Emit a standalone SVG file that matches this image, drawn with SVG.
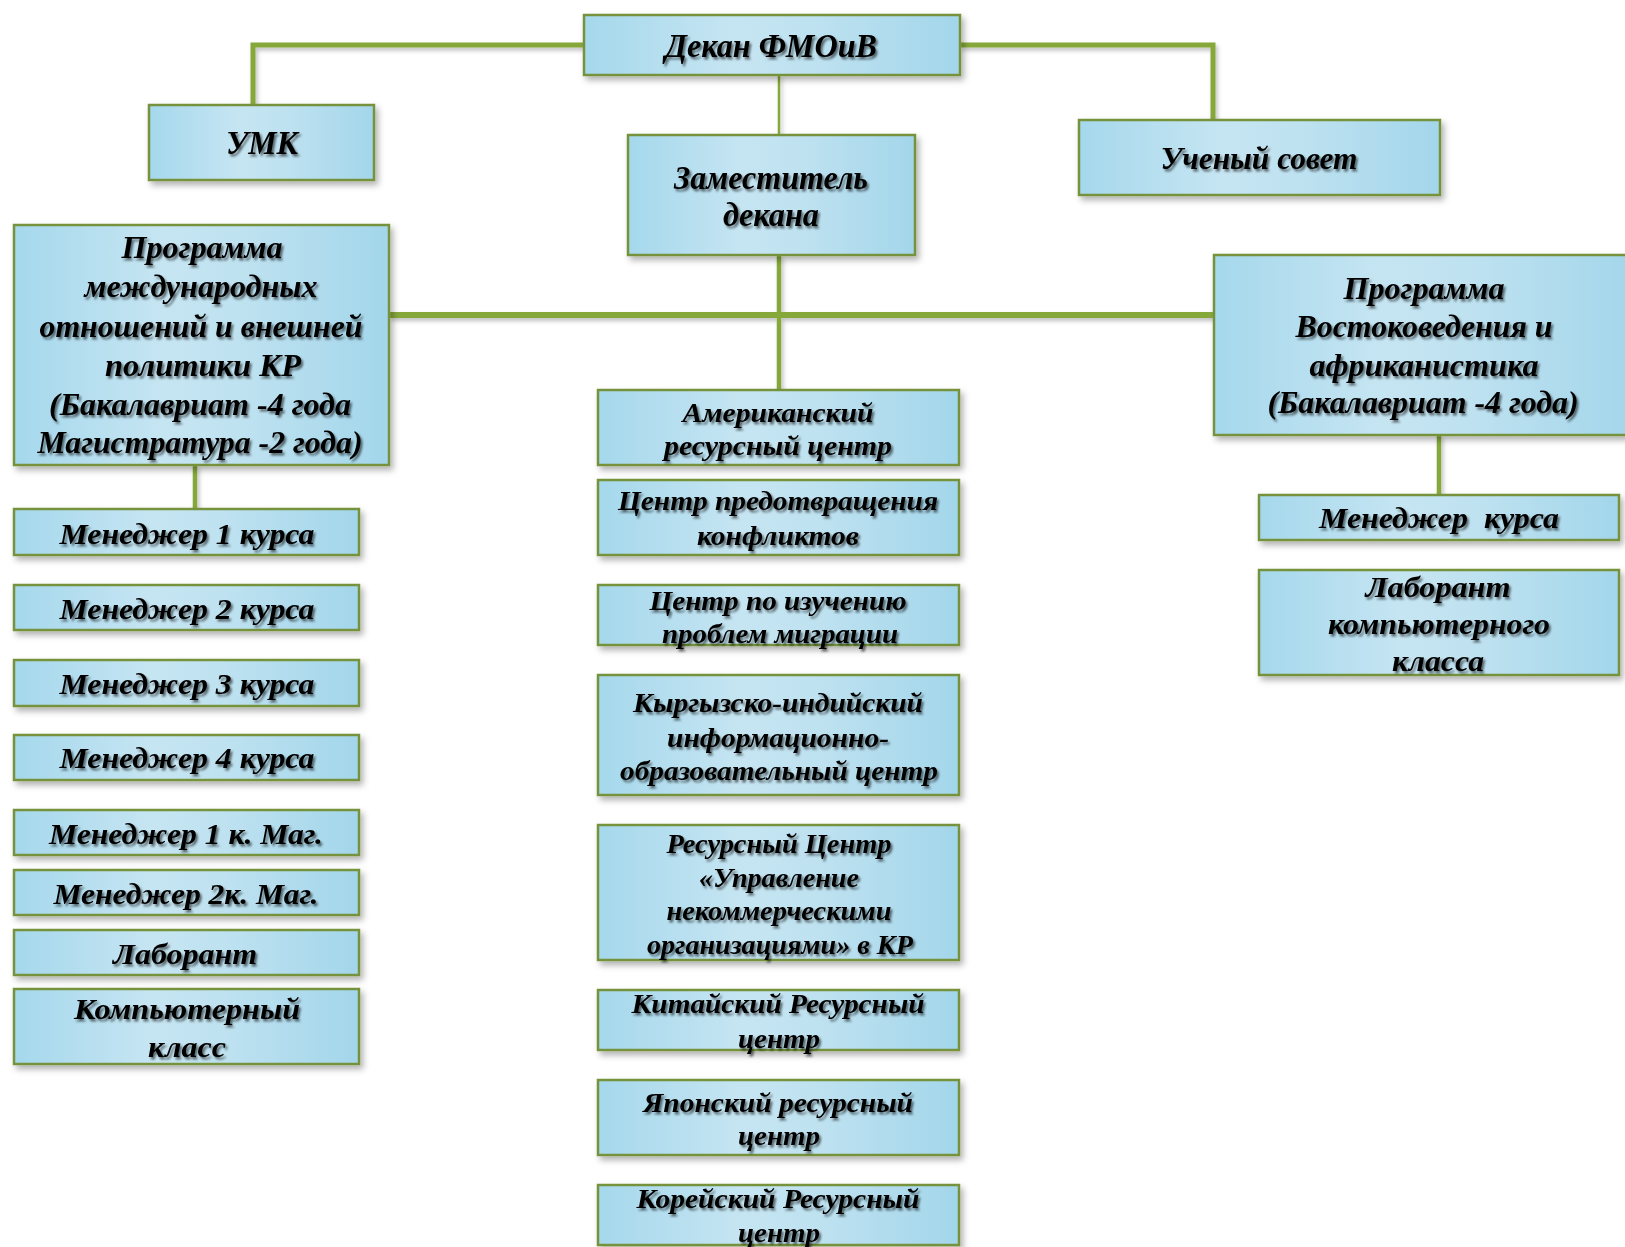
<svg xmlns="http://www.w3.org/2000/svg" width="1625" height="1247" viewBox="0 0 1625 1247">
<defs>
<linearGradient id="g" x1="0" y1="0" x2="1" y2="0">
<stop offset="0" stop-color="#a5d8ec"/>
<stop offset="0.4" stop-color="#c6e5f2"/>
<stop offset="0.6" stop-color="#bfe2f0"/>
<stop offset="1" stop-color="#a3d6eb"/>
</linearGradient>
<filter id="bs" x="-10%" y="-20%" width="130%" height="150%">
<feDropShadow dx="3" dy="4" stdDeviation="3" flood-color="#000" flood-opacity="0.3"/>
</filter>
<filter id="ts" x="-5%" y="-30%" width="115%" height="170%">
<feDropShadow dx="2" dy="2.5" stdDeviation="1.3" flood-color="#000" flood-opacity="0.55"/>
</filter>
<filter id="ls" filterUnits="userSpaceOnUse" x="0" y="0" width="1625" height="1247">
<feDropShadow dx="2" dy="3" stdDeviation="2" flood-color="#000" flood-opacity="0.25"/>
</filter>
</defs>
<style>
.box{fill:url(#g);stroke:#76923c;stroke-width:2.5;filter:url(#bs)}
.t{font-family:"Liberation Serif","Times New Roman",serif;font-weight:bold;font-style:italic;text-anchor:middle;fill:#000;filter:url(#ts)}
.c{stroke:#86a83b;fill:none;stroke-linejoin:miter}
</style>
<rect width="1625" height="1247" fill="#ffffff"/>

<g id="connectors" filter="url(#ls)">
<polyline class="c" stroke-width="5" points="584,45 253,45 253,105"/>
<polyline class="c" stroke-width="5" points="960,45 1213,45 1213,120"/>
<line class="c" stroke-width="2.5" x1="779" y1="75" x2="779" y2="135"/>
<line class="c" stroke-width="4.5" x1="779" y1="255" x2="779" y2="390"/>
<line class="c" stroke-width="6" x1="389" y1="315" x2="1214" y2="315"/>
<line class="c" stroke-width="4.5" x1="195" y1="465" x2="195" y2="509"/>
<line class="c" stroke-width="4.5" x1="1439" y1="435" x2="1439" y2="495"/>
</g>

<g id="n-dekan">
<rect class="box" x="584" y="15" width="376" height="60"/>
<text class="t" x="771" y="57" font-size="34" textLength="212" lengthAdjust="spacingAndGlyphs">Декан ФМОиВ</text>
</g>
<g id="n-umk">
<rect class="box" x="149" y="105" width="225" height="75"/>
<text class="t" x="262" y="154" font-size="34" textLength="72" lengthAdjust="spacingAndGlyphs">УМК</text>
</g>
<g id="n-zam">
<rect class="box" x="628" y="135" width="287" height="120"/>
<text class="t" x="771" y="189" font-size="33" textLength="194" lengthAdjust="spacingAndGlyphs">Заместитель</text>
<text class="t" x="771" y="226" font-size="33" textLength="96" lengthAdjust="spacingAndGlyphs">декана</text>
</g>
<g id="n-sovet">
<rect class="box" x="1079" y="120" width="361" height="75"/>
<text class="t" x="1259" y="169" font-size="31" textLength="197" lengthAdjust="spacingAndGlyphs">Ученый совет</text>
</g>

<g id="n-prog-mo">
<rect class="box" x="14" y="225" width="375" height="240"/>
<text class="t" x="202" y="258" font-size="31" textLength="161" lengthAdjust="spacingAndGlyphs">Программа</text>
<text class="t" x="201" y="297" font-size="31" textLength="233" lengthAdjust="spacingAndGlyphs">международных</text>
<text class="t" x="201" y="337" font-size="31" textLength="323" lengthAdjust="spacingAndGlyphs">отношений и внешней</text>
<text class="t" x="203" y="376" font-size="31" textLength="196" lengthAdjust="spacingAndGlyphs">политики КР</text>
<text class="t" x="200" y="415" font-size="31" textLength="302" lengthAdjust="spacingAndGlyphs">(Бакалавриат -4 года</text>
<text class="t" x="200" y="453" font-size="31" textLength="325" lengthAdjust="spacingAndGlyphs">Магистратура -2 года)</text>
</g>

<g id="n-prog-vost">
<rect class="box" x="1214" y="255" width="420" height="180"/>
<text class="t" x="1424" y="299" font-size="31" textLength="161" lengthAdjust="spacingAndGlyphs">Программа</text>
<text class="t" x="1424" y="337" font-size="31" textLength="257" lengthAdjust="spacingAndGlyphs">Востоковедения и</text>
<text class="t" x="1424" y="376" font-size="31" textLength="229" lengthAdjust="spacingAndGlyphs">африканистика</text>
<text class="t" x="1423" y="413" font-size="31" textLength="311" lengthAdjust="spacingAndGlyphs">(Бакалавриат -4 года)</text>
</g>
<g id="n-men-kursa">
<rect class="box" x="1259" y="495" width="360" height="45"/>
<text class="t" x="1439" y="528" font-size="30" textLength="240" lengthAdjust="spacingAndGlyphs" style="white-space:pre">Менеджер  курса</text>
</g>
<g id="n-lab-komp">
<rect class="box" x="1259" y="570" width="360" height="105"/>
<text class="t" x="1438" y="597" font-size="30" textLength="145" lengthAdjust="spacingAndGlyphs">Лаборант</text>
<text class="t" x="1439" y="634" font-size="30" textLength="222" lengthAdjust="spacingAndGlyphs">компьютерного</text>
<text class="t" x="1438" y="671" font-size="30" textLength="92" lengthAdjust="spacingAndGlyphs">класса</text>
</g>

<g id="n-m1">
<rect class="box" x="14" y="509" width="345" height="46"/>
<text class="t" x="187" y="544" font-size="30" textLength="255" lengthAdjust="spacingAndGlyphs">Менеджер 1 курса</text>
</g>
<g id="n-m2">
<rect class="box" x="14" y="585" width="345" height="45"/>
<text class="t" x="187" y="619" font-size="30" textLength="255" lengthAdjust="spacingAndGlyphs">Менеджер 2 курса</text>
</g>
<g id="n-m3">
<rect class="box" x="14" y="660" width="345" height="46"/>
<text class="t" x="187" y="694" font-size="30" textLength="255" lengthAdjust="spacingAndGlyphs">Менеджер 3 курса</text>
</g>
<g id="n-m4">
<rect class="box" x="14" y="735" width="345" height="45"/>
<text class="t" x="187" y="768" font-size="30" textLength="255" lengthAdjust="spacingAndGlyphs">Менеджер 4 курса</text>
</g>
<g id="n-m1mag">
<rect class="box" x="14" y="810" width="345" height="45"/>
<text class="t" x="186" y="844" font-size="30" textLength="274" lengthAdjust="spacingAndGlyphs">Менеджер 1 к. Маг.</text>
</g>
<g id="n-m2mag">
<rect class="box" x="14" y="870" width="345" height="45"/>
<text class="t" x="186" y="904" font-size="30" textLength="265" lengthAdjust="spacingAndGlyphs">Менеджер 2к. Маг.</text>
</g>
<g id="n-lab">
<rect class="box" x="14" y="930" width="345" height="45"/>
<text class="t" x="185" y="964" font-size="30" textLength="144" lengthAdjust="spacingAndGlyphs">Лаборант</text>
</g>
<g id="n-komp">
<rect class="box" x="14" y="989" width="345" height="75"/>
<text class="t" x="187" y="1019" font-size="30" textLength="226" lengthAdjust="spacingAndGlyphs">Компьютерный</text>
<text class="t" x="187" y="1057" font-size="30" textLength="78" lengthAdjust="spacingAndGlyphs">класс</text>
</g>

<g id="n-amer">
<rect class="box" x="598" y="390" width="361" height="75"/>
<text class="t" x="778" y="422" font-size="28" textLength="191" lengthAdjust="spacingAndGlyphs">Американский</text>
<text class="t" x="778" y="455" font-size="28" textLength="228" lengthAdjust="spacingAndGlyphs">ресурсный центр</text>
</g>
<g id="n-predotvr">
<rect class="box" x="598" y="480" width="361" height="75"/>
<text class="t" x="778" y="510" font-size="28" textLength="320" lengthAdjust="spacingAndGlyphs">Центр предотвращения</text>
<text class="t" x="778" y="545" font-size="28" textLength="162" lengthAdjust="spacingAndGlyphs">конфликтов</text>
</g>
<g id="n-migr">
<rect class="box" x="598" y="585" width="361" height="60"/>
<text class="t" x="778" y="610" font-size="28" textLength="257" lengthAdjust="spacingAndGlyphs">Центр по изучению</text>
<text class="t" x="780" y="643" font-size="28" textLength="236" lengthAdjust="spacingAndGlyphs">проблем миграции</text>
</g>
<g id="n-kyrg">
<rect class="box" x="598" y="675" width="361" height="120"/>
<text class="t" x="778" y="712" font-size="28" textLength="290" lengthAdjust="spacingAndGlyphs">Кыргызско-индийский</text>
<text class="t" x="778" y="747" font-size="28" textLength="222" lengthAdjust="spacingAndGlyphs">информационно-</text>
<text class="t" x="779" y="780" font-size="28" textLength="318" lengthAdjust="spacingAndGlyphs">образовательный центр</text>
</g>
<g id="n-nko">
<rect class="box" x="598" y="825" width="361" height="135"/>
<text class="t" x="779" y="853" font-size="28" textLength="225" lengthAdjust="spacingAndGlyphs">Ресурсный Центр</text>
<text class="t" x="779" y="887" font-size="28" textLength="160" lengthAdjust="spacingAndGlyphs">«Управление</text>
<text class="t" x="779" y="920" font-size="28" textLength="225" lengthAdjust="spacingAndGlyphs">некоммерческими</text>
<text class="t" x="780" y="954" font-size="28" textLength="266" lengthAdjust="spacingAndGlyphs">организациями» в КР</text>
</g>
<g id="n-china">
<rect class="box" x="598" y="990" width="361" height="60"/>
<text class="t" x="778" y="1013" font-size="28" textLength="293" lengthAdjust="spacingAndGlyphs">Китайский Ресурсный</text>
<text class="t" x="779" y="1048" font-size="28" textLength="82" lengthAdjust="spacingAndGlyphs">центр</text>
</g>
<g id="n-japan">
<rect class="box" x="598" y="1080" width="361" height="75"/>
<text class="t" x="778" y="1112" font-size="28" textLength="270" lengthAdjust="spacingAndGlyphs">Японский ресурсный</text>
<text class="t" x="779" y="1145" font-size="28" textLength="82" lengthAdjust="spacingAndGlyphs">центр</text>
</g>
<g id="n-korea">
<rect class="box" x="598" y="1185" width="361" height="60"/>
<text class="t" x="778" y="1208" font-size="28" textLength="283" lengthAdjust="spacingAndGlyphs">Корейский Ресурсный</text>
<text class="t" x="779" y="1242" font-size="28" textLength="82" lengthAdjust="spacingAndGlyphs">центр</text>
</g>
</svg>
